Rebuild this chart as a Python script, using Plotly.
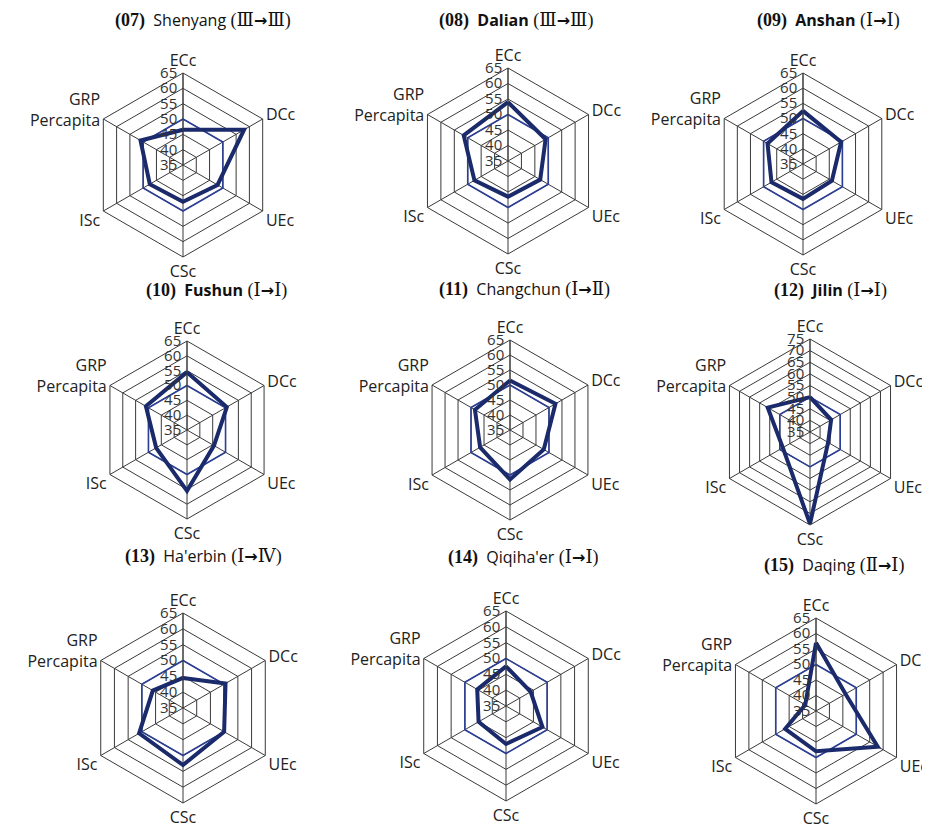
import plotly.graph_objects as go

categories = ["ECc", "DCc", "UEc", "CSc", "ISc", "GRP<br>Percapita"]

baseline = [50, 50, 50, 50, 50, 50]

shenyang = [46.5, 58, 48, 47, 47.5, 51]
dalian = [54, 49, 47, 46.5, 47.5, 51.5]
anshan = [52.5, 49.5, 46, 46.5, 47, 48.5]
fushun = [54.5, 50.5, 45.5, 55.5, 47, 51]
changchun = [51.5, 52.5, 48, 51.5, 46.5, 48.5]
jilin = [50, 45.5, 44, 74.5, 48.5, 56]
haerbin = [44.5, 50.5, 50, 53, 51, 46]
qiqihaer = [47.5, 44, 48.3, 47, 45, 45.5]
daqing = [57, 46, 58, 48, 46.5, 39]

SER = "Liberation Serif, DejaVu Serif, serif"
ARW = "DejaVu Sans, sans-serif"

def title(num, name, trans, bold_name=False):
    a, b = trans
    nm = f"<b>{name}</b>" if bold_name else name
    return (f"<span style='font-family:{SER};font-size:18px'><b>({num})</b></span>  {nm}"
            f"<span style='font-family:{SER};font-size:18px'> ({a}</span>"
            f"<span style='font-family:{ARW}'><b>→</b></span>"
            f"<span style='font-family:{SER};font-size:18px'>{b})</span>")

panels = [
    dict(vals=shenyang, title=title("07", "Shenyang", ("Ⅲ", "Ⅲ")), cx=175, cy=157, R=92, rmax=65, tx=195, ty=12),
    dict(vals=dalian, title=title("08", "Dalian", ("Ⅲ", "Ⅲ"), True), cx=500, cy=153, R=93, rmax=65, tx=508, ty=12),
    dict(vals=anshan, title=title("09", "Anshan", ("Ⅰ", "Ⅰ"), True), cx=795, cy=156, R=91, rmax=65, tx=820, ty=12),
    dict(vals=fushun, title=title("10", "Fushun", ("Ⅰ", "Ⅰ"), True), cx=179, cy=422, R=89, rmax=65, tx=208, ty=282),
    dict(vals=changchun, title=title("11", "Changchun", ("Ⅰ", "Ⅱ")), cx=502, cy=422, R=90, rmax=65, tx=516, ty=281),
    dict(vals=jilin, title=title("12", "Jilin", ("Ⅰ", "Ⅰ"), True), cx=802, cy=424, R=93, rmax=75, tx=822, ty=282),
    dict(vals=haerbin, title=title("13", "Ha'erbin", ("Ⅰ", "Ⅳ")), cx=175, cy=700, R=95, rmax=65, tx=195, ty=548),
    dict(vals=qiqihaer, title=title("14", "Qiqiha'er", ("Ⅰ", "Ⅰ")), cx=498, cy=698, R=95, rmax=65, tx=515, ty=549),
    dict(vals=daqing, title=title("15", "Daqing", ("Ⅱ", "Ⅰ")), cx=808, cy=703, R=93, rmax=65, tx=826, ty=557),
]

W, H = 930, 827
fig = go.Figure()
layout = dict(width=W, height=H, margin=dict(l=0, r=0, t=0, b=0),
              paper_bgcolor="white", plot_bgcolor="white", showlegend=False,
              font=dict(family="Open Sans, Noto Sans, sans-serif", size=15, color="#222"))
annotations = []
GRID = "#3a3a3a"
for i, p in enumerate(panels):
    pid = "polar" if i == 0 else f"polar{i+1}"
    sub = "polar" if i == 0 else f"polar{i+1}"
    cx, cy, R = p["cx"], p["cy"], p["R"]
    layout[pid] = dict(
        domain=dict(x=[(cx - R) / W, (cx + R) / W], y=[1 - (cy + R) / H, 1 - (cy - R) / H]),
        gridshape="linear",
        bgcolor="white",
        radialaxis=dict(range=[35, p["rmax"]], dtick=5, tick0=35, angle=90, tickangle=90,
                        side="counterclockwise", showline=True, linecolor=GRID, linewidth=1,
                        gridcolor=GRID, gridwidth=1, ticks="",
                        tickfont=dict(size=15, color="#333")),
        angularaxis=dict(direction="clockwise", rotation=90, showline=True, linecolor=GRID,
                         linewidth=1, gridcolor=GRID, gridwidth=1, ticks="",
                         tickfont=dict(size=16, color="#222")),
    )
    fig.add_trace(go.Scatterpolar(r=baseline + baseline[:1], theta=categories + categories[:1],
                                  mode="lines", line=dict(color="#2c3f94", width=1.6),
                                  subplot=sub, hoverinfo="skip"))
    fig.add_trace(go.Scatterpolar(r=p["vals"] + p["vals"][:1], theta=categories + categories[:1],
                                  mode="lines", line=dict(color="#1b2a6b", width=4),
                                  subplot=sub))
    annotations.append(dict(x=p["tx"] / W, y=1 - p["ty"] / H, xref="paper", yref="paper",
                            text=p["title"], showarrow=False, xanchor="center", yanchor="middle",
                            font=dict(size=16, color="#111")))
layout["annotations"] = annotations
fig.update_layout(**layout)
fig.write_html("out.html")
